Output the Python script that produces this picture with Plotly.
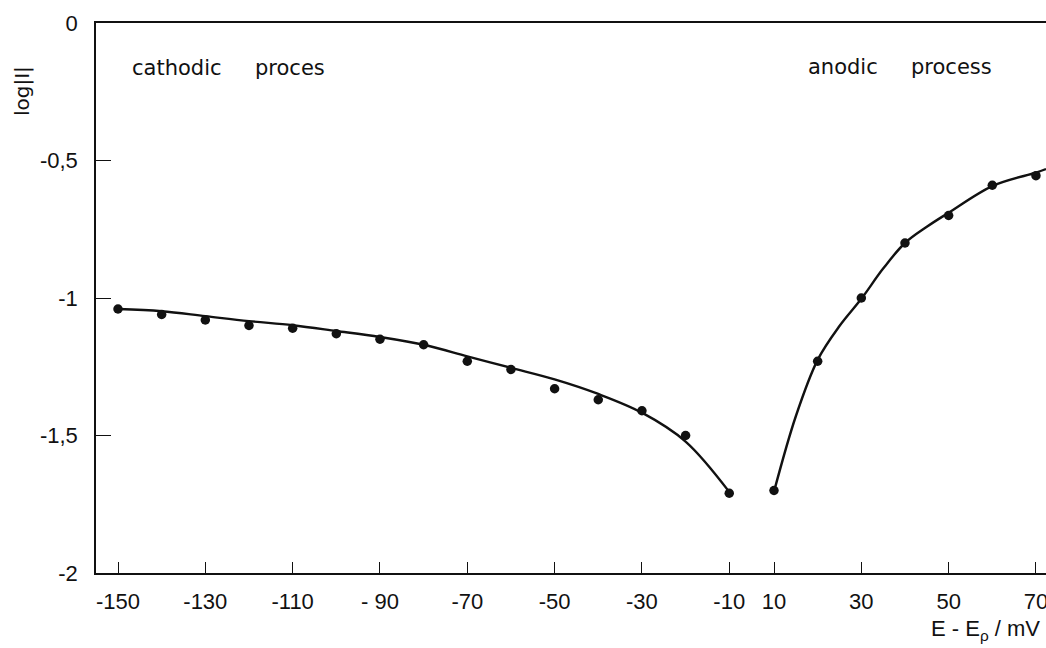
import plotly.graph_objects as go

# ---- data ----
cath_x = [-150, -140, -130, -120, -110, -100, -90, -80, -70, -60, -50, -40, -30, -20, -10]
cath_y = [-1.04, -1.06, -1.08, -1.10, -1.11, -1.13, -1.15, -1.17, -1.23, -1.26, -1.33, -1.37, -1.41, -1.50, -1.71]

anod_x = [10, 20, 30, 40, 50, 60, 70]
anod_y = [-1.70, -1.23, -1.00, -0.80, -0.70, -0.59, -0.555]

cath_curve_x = [-150, -140, -130, -120, -110, -100, -90, -80, -70, -60, -50, -40, -30, -20, -10]
cath_curve_y = [-1.04, -1.048, -1.066, -1.084, -1.099, -1.120, -1.142, -1.170, -1.212, -1.254, -1.296,
                -1.349, -1.417, -1.522, -1.705]

anod_curve_x = [10, 15, 20, 25, 30, 35, 40, 45, 50, 60, 70, 72.3]
anod_curve_y = [-1.704, -1.43, -1.225, -1.102, -1.003, -0.893, -0.80, -0.741, -0.690, -0.593, -0.544, -0.531]

x_ticks = [-150, -130, -110, -90, -70, -50, -30, -10, 10, 30, 50, 70]
x_ticklabels = ["-150", "-130", "-110", "- 90", "-70", "-50", "-30", "-10", "10", "30", "50", "70"]
y_ticks = [0, -0.5, -1, -1.5, -2]
y_ticklabels = ["0", "-0,5", "-1", "-1,5", "-2"]

GAP = 9.75  # broken axis: positive potentials are drawn closer to the negative branch


def xmap(vals):
    return [v - GAP if v > 0 else v for v in vals]


INK = "#111111"
TICKFONT = "Liberation Sans"
FONT = "DejaVu Sans"

fig = go.Figure()
fig.add_trace(go.Scatter(x=xmap(cath_curve_x), y=cath_curve_y, mode="lines",
                         line=dict(color=INK, width=2.4, shape="spline", smoothing=1.0),
                         showlegend=False, hoverinfo="skip"))
fig.add_trace(go.Scatter(x=xmap(anod_curve_x), y=anod_curve_y, mode="lines",
                         line=dict(color=INK, width=2.4, shape="spline", smoothing=1.0),
                         showlegend=False, hoverinfo="skip"))
fig.add_trace(go.Scatter(x=xmap(cath_x), y=cath_y, mode="markers",
                         marker=dict(color=INK, size=9.5), showlegend=False))
fig.add_trace(go.Scatter(x=xmap(anod_x), y=anod_y, mode="markers",
                         marker=dict(color=INK, size=9.5), showlegend=False))

fig.update_layout(
    width=1046, height=648,
    margin=dict(l=96, r=0, t=23, b=75, autoexpand=False),
    paper_bgcolor="white", plot_bgcolor="white",
    font=dict(family=FONT, size=20, color=INK),
    xaxis=dict(range=[-155.04, 62.55], showline=True, linecolor=INK, linewidth=1.5, mirror=True,
               showgrid=False, zeroline=False, ticks="inside", ticklen=11, tickwidth=1.3, tickcolor=INK,
               tickvals=xmap(x_ticks), ticktext=x_ticklabels, ticklabelstandoff=8, automargin=False,
               ticklabeloverflow="allow",
               tickfont=dict(family=TICKFONT, size=22, color=INK)),
    yaxis=dict(range=[-2, 0], showline=True, linecolor=INK, linewidth=1.5,
               showgrid=False, zeroline=False, ticks="inside", ticklen=15, tickwidth=1.3, tickcolor=INK,
               tickvals=y_ticks, ticktext=y_ticklabels, ticklabelstandoff=12, automargin=False,
               ticklabeloverflow="allow",
               tickfont=dict(family=TICKFONT, size=22, color=INK)),
)


def px(xp):
    return (xp - 96) / 950.0


def py(yp):
    return (573 - yp) / 550.0


ann_font = dict(family=FONT, size=21, color=INK)
for text, xc, yc in [("cathodic", 176.5, 68), ("proces", 290, 68), ("anodic", 842.5, 67), ("process", 951.5, 67)]:
    fig.add_annotation(text=text, xref="paper", yref="paper", x=px(xc), y=py(yc),
                       xanchor="center", yanchor="middle", showarrow=False, font=ann_font)

fig.add_annotation(text="log|I|", xref="paper", yref="paper", x=px(22), y=py(91), textangle=-90,
                   xanchor="center", yanchor="middle", showarrow=False, font=dict(family=FONT, size=20, color=INK))
fig.add_annotation(text="E - E<sub>ρ</sub> / mV", xref="paper", yref="paper", x=px(1042), y=py(630),
                   xanchor="right", yanchor="middle", showarrow=False,
                   font=dict(family=TICKFONT, size=22, color=INK))

fig.write_html(
    "out.html",
    config={"displayModeBar": False},
    default_width="1046px",
    default_height="648px",
    post_script="document.body.style.margin='0';document.body.style.overflow='hidden';",
)
